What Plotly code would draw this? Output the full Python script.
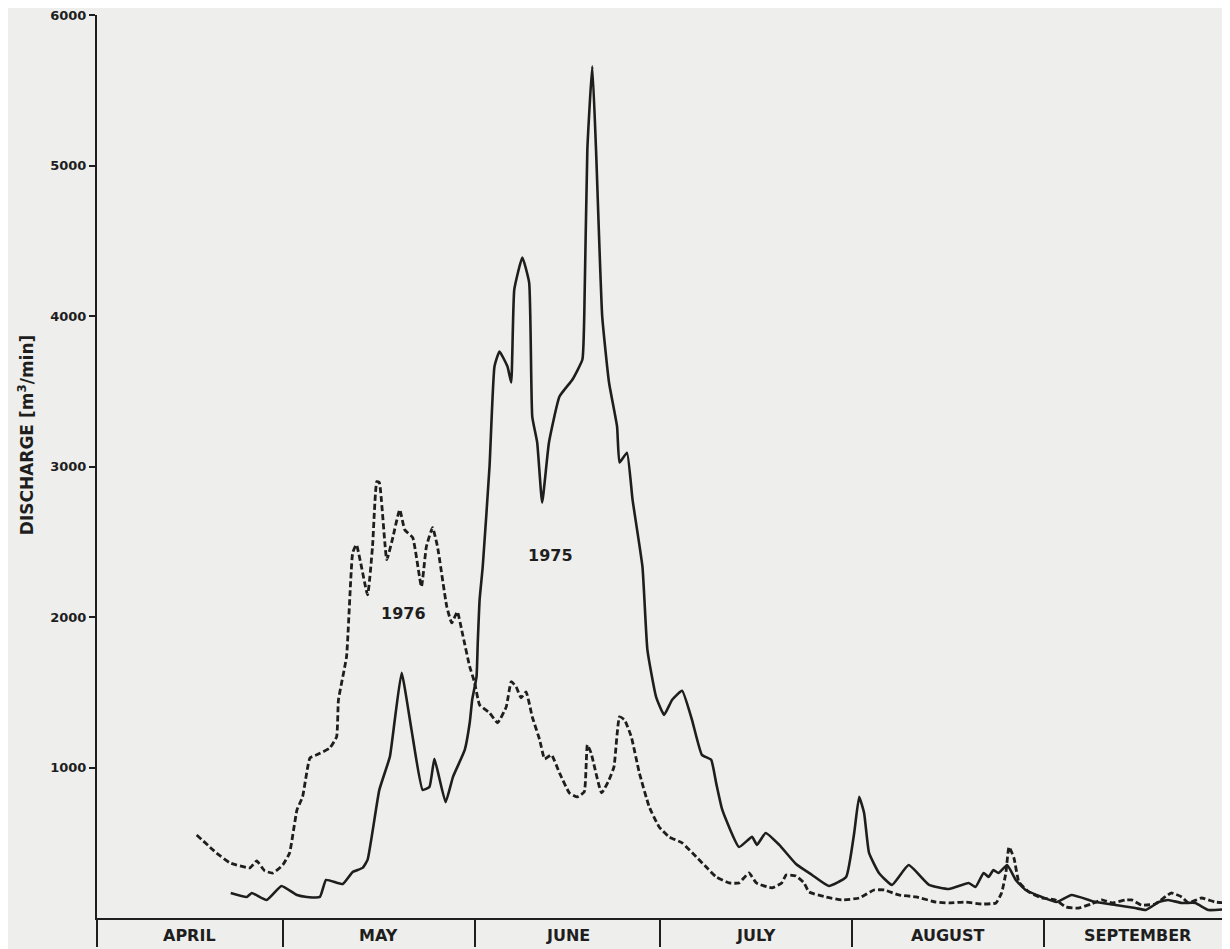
import plotly.graph_objects as go

# ---- data (day index from April 1, discharge m3/min) ----
days_1975 = [21.6, 24.2, 25, 27.4, 29.8, 32.3, 33.9, 36, 37, 39.7, 41.3, 42.9, 43.7, 45.6, 47.3, 48.1,
             49.2, 50.8, 52.6, 53.7, 54.5, 56.3, 57.5, 59.4, 60.2, 60.6, 61.3, 61.5, 61.8, 62.3, 63.4,
             64.2, 65, 66.3, 66.9, 67.4, 68.7, 69.8, 70.3, 71.1, 71.9, 73, 74.7, 76.8, 78.4, 78.7,
             79.2, 80, 80.6, 81.6, 82.7, 84, 84.4, 85.6, 86.5, 88.1, 88.9, 90.3, 91.6, 92.9, 94.5,
             96.1, 97.7, 99.2, 100, 101, 103.7, 105.8, 106.6, 108, 110.2, 112.9, 115.5, 118.2, 121,
             122.3, 123.1, 123.9, 124.7, 126.3, 128.4, 131.1, 134.4, 137.6, 140.8, 141.9, 143.2, 144,
             144.8, 145.6, 147, 148.4, 150, 152.6, 155, 157.4, 161.3, 164.5, 167.7, 169.4, 171.5,
             173, 175.2, 177.4, 179.5, 182.7]
flow_1975 = [166, 140, 166, 120, 213, 153, 140, 140, 253, 226, 306, 333, 386, 851, 1071, 1317,
             1630, 1250, 851, 871, 1057, 770, 938, 1117, 1297, 1450, 1603, 1829, 2115, 2334, 3000,
             3664, 3764, 3664, 3558, 4176, 4389, 4222, 3332, 3159, 2760, 3159, 3465, 3578, 3711, 3997,
             5107, 5659, 5107, 3997, 3558, 3265, 3026, 3092, 2780, 2334, 1782, 1470, 1350, 1450, 1510,
             1317, 1084, 1051, 898, 718, 472, 539, 486, 565, 486, 359, 286, 213, 273,
             565, 805, 698, 432, 299, 220, 352, 220, 193, 233, 206, 299, 273,
             319, 299, 352, 253, 186, 140, 106, 153, 106, 86, 66, 53, 106,
             120, 100, 100, 53, 60]

days_1976 = [16.1, 19.3, 21.5, 24.7, 25.8, 27.1, 28.4, 30, 31.1, 32.3, 33.2, 34.4, 35.5, 37.6, 38.7,
             39, 40.3, 41.3, 41.9, 43.7, 44.5, 45.2, 45.6, 46.8, 47.7, 48.9, 49.7, 51, 52.4, 53.2,
             54.2, 55, 56.5, 57.3, 58.2, 59, 60.2, 61, 61.8, 63.4, 64.7, 66.1, 66.9, 67.7, 68.5,
             69.3, 70.3, 71.5, 72.3, 73.4, 74.7, 76.3, 77.6, 78.7, 79.2, 79.8, 81.5, 82.7, 83.5,
             84.4, 85.2, 86.3, 87.6, 89.2, 90.8, 92.4, 94.5, 96.8, 98.4, 100, 102.1, 103.7, 105.3,
             106.5, 109, 110.6, 111.3, 112.9, 114.2, 115, 117.7, 120.3, 123.1, 125.5, 127.2, 129.5,
             132.3, 135.5, 137.6, 140.3, 142.9, 145.2, 146.1, 146.8, 147.3, 148.1, 148.9, 150.5,
             152.6, 154.8, 156.5, 158.5, 160.6, 162.3, 163.9, 166.1, 167.1, 168.7, 170.9, 173.5,
             175.2, 176.3, 178.4, 180.6, 182.7]
flow_1976 = [552, 432, 366, 333, 379, 313, 299, 352, 432, 718, 805, 1064, 1084, 1130, 1204,
             1450, 1736, 2427, 2480, 2148, 2467, 2900, 2893, 2381, 2514, 2713, 2580, 2527, 2201, 2467,
             2593, 2467, 2068, 1961, 2035, 1895, 1670, 1563, 1416, 1363, 1297, 1403, 1570, 1536, 1463,
             1503, 1337, 1184, 1057, 1084, 964, 831, 805, 838, 1150, 1097, 831, 918, 1004,
             1337, 1317, 1204, 964, 738, 605, 539, 499, 406, 339, 273, 233, 233, 299,
             233, 200, 233, 286, 279, 233, 173, 140, 120, 133, 186, 186, 153,
             140, 106, 100, 106, 93, 100, 166, 299, 472, 399, 240, 173,
             133, 120, 73, 66, 93, 120, 100, 120, 120, 86, 93, 166,
             140, 100, 133, 106, 100]

month_names = ["APRIL", "MAY", "JUNE", "JULY", "AUGUST", "SEPTEMBER"]
month_starts = [0, 30, 61, 91, 122, 153]
month_ends = [30, 61, 91, 122, 153, 183]
y_ticks = [1000, 2000, 3000, 4000, 5000, 6000]

INK = "#1e1e1e"
BG = "#eeeeec"
FONT = "DejaVu Sans"

fig = go.Figure()
fig.add_trace(go.Scatter(x=days_1975, y=flow_1975, mode="lines", name="1975",
                         line=dict(color=INK, width=2.6, shape="spline", smoothing=0.4)))
fig.add_trace(go.Scatter(x=days_1976, y=flow_1976, mode="lines", name="1976",
                         line=dict(color=INK, width=2.8, dash="6px,3px", shape="spline", smoothing=0.4)))

annotations = []
for name, s, e in zip(month_names, month_starts, month_ends):
    annotations.append(dict(x=(s + e) / 2, y=-0.019, xref="x", yref="paper", text=name,
                            showarrow=False, xanchor="center", yanchor="middle",
                            font=dict(family=FONT, size=16, color=INK, weight="bold")))
annotations.append(dict(x=49.5, y=2022, xref="x", yref="y", text="1976", showarrow=False,
                        font=dict(family=FONT, size=16, color=INK, weight="bold")))
annotations.append(dict(x=73.2, y=2407, xref="x", yref="y", text="1975", showarrow=False,
                        font=dict(family=FONT, size=16, color=INK, weight="bold")))
annotations.append(dict(x=-0.063, y=3212, xref="paper", yref="y",
                        text="DISCHARGE [m<sup>3</sup>/min]", textangle=-90, showarrow=False,
                        xanchor="center", yanchor="middle",
                        font=dict(family=FONT, size=17, color=INK, weight="bold")))

# page body has an 8px margin: shrink the figure so the plot area lands where the reference has it
fig.update_layout(
    width=1222, height=941,
    margin=dict(l=89, r=0, t=7, b=31),
    paper_bgcolor=BG, plot_bgcolor=BG,
    showlegend=False,
    annotations=annotations,
    xaxis=dict(range=[0, 183], showgrid=False, zeroline=False, showline=True,
               linecolor=INK, linewidth=2, tickmode="array", tickvals=month_starts,
               ticks="outside", ticklen=27, tickwidth=2, tickcolor=INK,
               showticklabels=False),
    yaxis=dict(range=[0, 6000], showgrid=False, zeroline=False, showline=True,
               linecolor=INK, linewidth=2, tickmode="array", tickvals=y_ticks,
               ticktext=[str(v) for v in y_ticks], ticklabeloverflow="allow",
               ticks="outside", ticklen=6, tickwidth=2, tickcolor=INK,
               tickfont=dict(family=FONT, size=13, color=INK, weight="bold")),
)

fig.write_html("out.html")
